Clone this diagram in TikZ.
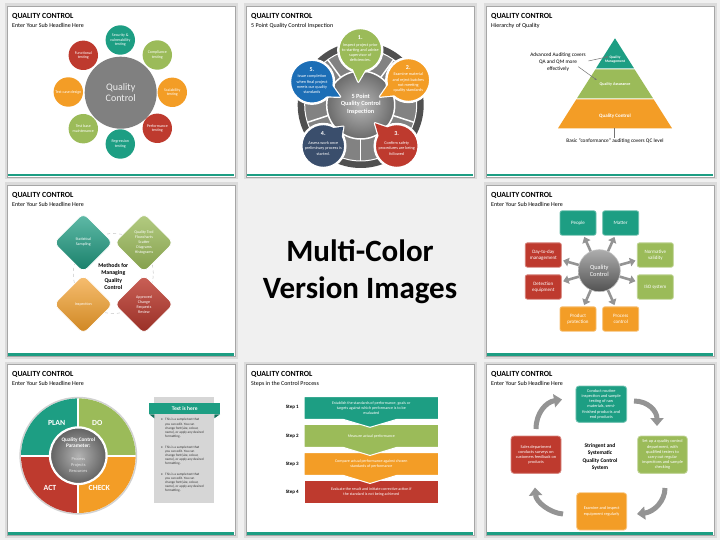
\documentclass[tikz,border=0pt]{standalone}
\usepackage{fontspec}
\setmainfont{Carlito}
\usetikzlibrary{calc,arrows.meta}
\definecolor{bgc}{RGB}{240,240,240}
\definecolor{tealc}{RGB}{29,158,131}
\definecolor{greenc}{RGB}{155,187,89}
\definecolor{orangec}{RGB}{243,157,38}
\definecolor{redc}{RGB}{190,58,46}
\definecolor{navyc}{RGB}{58,78,108}
\definecolor{bluec}{RGB}{28,110,182}
\definecolor{qgray}{RGB}{128,128,128}
\definecolor{ringdark}{RGB}{80,80,80}
\definecolor{ringmid}{RGB}{130,130,130}
\newcommand\myfs[2]{\fontsize{#1}{#2}\selectfont}
\tikzset{
  slidetitle/.style={anchor=base west,inner sep=0pt,font=\bfseries\myfs{7.8}{9}},
  slidesub/.style={anchor=base west,inner sep=0pt,font=\myfs{6}{7}},
  wtxt/.style={text=white,align=center,inner sep=0pt},
  smallc/.style={circle,minimum size=29.4pt,inner sep=0pt,text=white,align=center,font=\myfs{4}{4.6}},
  bnum/.style={wtxt,font=\bfseries\myfs{6}{7}},
  btext/.style={wtxt,font=\myfs{4.2}{5.2}},
  ptext/.style={wtxt,font=\bfseries\myfs{4}{4.8}},
  annot/.style={align=center,inner sep=0pt,font=\myfs{5.3}{7}},
  dtext/.style={wtxt,font=\myfs{4}{5}},
  qbox/.style={rectangle,rounded corners=2pt,minimum width=36pt,minimum height=24.3pt,inner sep=0pt,text=white,align=center,font=\myfs{5}{6.3},line width=0.8pt},
  garrow/.style={draw=black!42,line width=2.6pt,-{Triangle[length=5.5pt,width=8.5pt]},shorten >=1.5pt},
  pdca/.style={wtxt,font=\bfseries\myfs{7.8}{9}},
  bultxt/.style={anchor=north west,align=left,inner sep=0pt,font=\myfs{3.4}{4.2},text=black!80},
  bulmark/.style={inner sep=0pt,font=\myfs{3.4}{4.2},text=black!80},
  steplab/.style={inner sep=0pt,font=\bfseries\myfs{5}{6}},
  stext/.style={wtxt,font=\myfs{4}{5}},
  sbox/.style={rectangle,rounded corners=3pt,inner sep=1pt,text=white,align=center,font=\myfs{4.3}{5.2},line width=0.8pt},
  garc/.style={draw=black!42,line width=5pt,-{Triangle[length=8pt,width=13pt]}},
}
\newcommand\myslide[4]{%
 \begin{scope}[shift={(#1,#2)}]
  \fill[black!14] (-2.5,-2.5) rectangle (230.5,173.5);
  \filldraw[fill=white,draw=black!35,line width=0.9pt] (0,0) rectangle (228,171);
  \fill[tealc] (0.6,168.4) rectangle (227.4,170.5);
  \node[slidetitle] (#3t) at (5,12.3) {QUALITY CONTROL};
  \node[slidesub] (#3s) at (5,21.5) {#4};
 \end{scope}}
\newcommand\bubble[6]{%
 \coordinate (#1c) at #3;
 \coordinate (#1a) at #4;
 \filldraw[fill=#2,draw=white,line width=2.4pt,line join=round] ($(#1c)!20pt!19:(#1a)$) -- (#1a) -- ($(#1c)!20pt!-19:(#1a)$) -- cycle;
 \filldraw[fill=#2,draw=white,line width=2.4pt] (#1c) circle (22pt);
 \fill[#2] ($(#1c)!20pt!19:(#1a)$) -- (#1a) -- ($(#1c)!20pt!-19:(#1a)$) -- cycle;
 \node[bnum] (#1n) at ($(#1c)+(0,-12)$) {#5};
 \node[btext] (#1x) at ($(#1c)+(0,2.5)$) {#6};
}
\newcommand\chev[5]{%
 \filldraw[fill=#2,draw=white,line width=1pt] (304,#3) -- (438.7,#3) -- (438.7,#4) -- (397,#4) -- (370,#5) -- (343,#4) -- (304,#4) -- cycle;
 \coordinate (#1) at (371.3,#3);}
\newcommand\rdiam[4]{% center x, y, top color, bottom color
 \path[top color=#3,bottom color=#4,draw=white,line width=0.8pt,rounded corners=6pt]
   (#1,#2-29.5) -- (#1+29.5,#2) -- (#1,#2+29.5) -- (#1-29.5,#2) -- cycle;}
\begin{document}
\begin{tikzpicture}[x=1pt,y=-1pt]
\useasboundingbox (0,0) rectangle (720,540);
\fill[bgc] (0,0) rectangle (720,540);

% ---------- frames ----------
\myslide{7}{6}{sa}{Enter Your Sub Headline Here}
\myslide{246}{6}{sb}{5 Point Quality Control Inspection}
\myslide{486}{6}{sc}{Hierarchy of Quality}
\myslide{7}{185}{sd}{Enter Your Sub Headline Here}
\myslide{486}{185}{se}{Enter Your Sub Headline Here}
\myslide{7}{364}{sf}{Enter Your Sub Headline Here}
\myslide{246}{364}{sg}{Steps in the Control Process}
\myslide{486}{364}{sh}{Enter Your Sub Headline Here}

% ---------- slide 1 ----------
\node[circle,fill=qgray,minimum size=72pt,inner sep=0pt,text=black!7,align=center,font=\myfs{10}{11.5}] (a0) at (120.7,92.7) {Quality\\Control};
\node[smallc,fill=tealc] (a1) at (120.3,40) {Security \&\\vulnerability\\testing};
\node[smallc,fill=greenc] (a2) at (157.3,55) {Compliance\\testing};
\node[smallc,fill=orangec] (a3) at (172.3,92.3) {Scalability\\testing};
\node[smallc,fill=redc] (a4) at (157.3,128.3) {Performance\\testing};
\node[smallc,fill=tealc] (a5) at (120.3,144) {Regression\\testing};
\node[smallc,fill=greenc] (a6) at (83.3,128.7) {Test base\\maintenance};
\node[smallc,fill=orangec] (a7) at (68.3,92) {Test case design};
\node[smallc,fill=redc] (a8) at (83.3,55.3) {Functional\\testing};

% ---------- slide 2 ----------
\fill[ringdark] (360.7,105) circle (63pt);
\fill[ringmid] (360.7,105) circle (56pt);
\draw[white,line width=1pt] (360.7,105) circle (56pt);
\foreach \a in {54,126,198,270,342}
  \draw[white,line width=1.5pt] (360.7,105) ++(\a:34pt) -- ++(\a:22pt);
\shade[inner color=black!28,outer color=black!58] (360.7,105) circle (34pt);
\draw[white,line width=1.5pt] (360.7,105) circle (34pt);
\node[wtxt,font=\bfseries\myfs{6.3}{7.5}] (b0) at (360.7,104) {5 Point\\Quality Control\\Inspection};
\bubble{ba}{greenc}{(360.3,50)}{(358.3,81.7)}{1.}{Inspect project prior\\to starting and advise\\supervisor of\\deficiencies.}
\bubble{bb}{orangec}{(408.3,80)}{(380,96.7)}{2.}{Examine material\\and reject batches\\not meeting\\quality standards}
\bubble{bc}{redc}{(396.7,146)}{(375,123.3)}{3.}{Confirm safety\\procedures are being\\followed}
\bubble{bd}{navyc}{(323.3,146)}{(343.3,126.7)}{4.}{Assess work once\\preliminary process is\\started.}
\bubble{be}{bluec}{(312,81.7)}{(340,96.7)}{5.}{Issue completion\\when final project\\meets our quality\\standards}

% ---------- slide 3 ----------
\fill[tealc] (615,38.3) -- (634,68.3) -- (596,68.3) -- cycle;
\fill[greenc] (595.4,69.4) -- (634.6,69.4) -- (653,98.3) -- (577,98.3) -- cycle;
\fill[orangec] (576.3,99.4) -- (653.7,99.4) -- (672,128.3) -- (558,128.3) -- cycle;
\node[ptext,font=\bfseries\myfs{3.6}{4.4}] (c1) at (615,59.5) {Quality\\Management};
\node[ptext,font=\bfseries\myfs{4.1}{5}] (c2) at (615,84.7) {Quality Assurance};
\node[ptext,font=\bfseries\myfs{5}{6}] (c3) at (615,116) {Quality Control};
\node[annot] (c4) at (558,62) {Advanced Auditing covers\\QA and QM more\\effectively};
\coordinate (c4a) at (588.3,61);
\coordinate (c4b) at (578.3,66.7);
\coordinate (qm) at (608.3,56.7);
\coordinate (qa) at (596.7,80);
\draw[black!55,line width=0.5pt,-{Stealth[length=2.2pt,width=2pt]}] (c4a) -- (qm);
\draw[black!55,line width=0.5pt,-{Stealth[length=2.2pt,width=2pt]}] (c4b) -- (qa);
\coordinate (qcb) at (614,128.5);
\node[annot,anchor=north] (c5) at (615,138.2) {Basic “conformance” auditing covers QC level};
\draw[black!55,line width=0.5pt] (qcb) -- (c5.north -| qcb);

% ---------- slide 4 ----------
\draw[black!22,dashed,line width=0.5pt] (113.3,273.5) circle (40pt);
\rdiam{83.3}{242.7}{tealc!70!white}{tealc!80!black}
\rdiam{144}{242.7}{greenc!75!white}{greenc!85!black}
\rdiam{83.3}{304.3}{orangec!65!white}{orangec!85!black}
\rdiam{144}{304.3}{redc!80!white}{redc!80!black}
\node[dtext] (d1) at (83.3,241.5) {Statistical\\Sampling};
\node[dtext] (d2) at (144,242.8) {Quality Tool\\Flowcharts\\Scatter\\Diagrams\\Histograms};
\node[dtext] (d3) at (83.3,304) {Inspection};
\node[dtext] (d4) at (144,304.3) {Approved\\Change\\Requests\\Review};
\node[align=center,inner sep=0pt,font=\bfseries\myfs{5.8}{7.6}] (d0) at (113.3,276.5) {Methods for\\Managing\\Quality\\Control};

% ---------- slide 5 ----------
\node[circle,minimum size=42pt,inner sep=0pt,top color=black!32,bottom color=black!68,draw=black!25,line width=0.6pt,text=white,align=center,font=\myfs{6.3}{7.3}] (e0) at (599.3,270.7) {Quality\\Control};
\node[qbox,fill=tealc,draw=tealc!65!white] (e1) at (578,223) {People};
\node[qbox,fill=tealc,draw=tealc!65!white] (e2) at (620.7,223) {Matter};
\node[qbox,fill=greenc,draw=greenc!65!white] (e3) at (655.3,255) {Normative\\validity};
\node[qbox,fill=greenc,draw=greenc!65!white] (e4) at (655.3,287) {ISO system};
\node[qbox,fill=orangec,draw=orangec!65!white] (e5) at (620.7,319) {Process\\control};
\node[qbox,fill=orangec,draw=orangec!65!white] (e6) at (578,319) {Product\\protection};
\node[qbox,fill=redc,draw=redc!65!white] (e7) at (543.3,287) {Detection\\equipment};
\node[qbox,fill=redc,draw=redc!65!white] (e8) at (543.3,255) {Day-to-day\\management};
\foreach \b in {e1,e2,e3,e4,e5,e6,e7,e8}
  \draw[garrow] (e0) -- (\b);

% ---------- slide 6 ----------
\draw[black!18,line width=1.4pt] (78.3,455.7) circle (58.2pt);
\begin{scope}
  \clip (78.3,455.7) circle (57.3pt);
  \fill[tealc] (20,397) rectangle (78.3,455.7);
  \fill[greenc] (78.3,397) rectangle (137,455.7);
  \fill[redc] (20,455.7) rectangle (78.3,514);
  \fill[orangec] (78.3,455.7) rectangle (137,514);
  \draw[white,line width=2pt] (78.3,397) -- (78.3,514);
  \draw[white,line width=2pt] (20,455.7) -- (137,455.7);
\end{scope}
\shade[inner color=black!30,outer color=black!62] (78.3,455.7) circle (28.3pt);
\draw[white,line width=2.2pt] (78.3,455.7) circle (28.3pt);
\node[pdca] (f1) at (56.7,422.7) {PLAN};
\node[pdca] (f2) at (97.3,422.7) {DO};
\node[pdca] (f3) at (50,487.7) {ACT};
\node[pdca] (f4) at (99.3,487.7) {CHECK};
\node[wtxt,font=\bfseries\myfs{5.3}{6}] (f5) at (78.3,443) {Quality Control\\Parameter:};
\node[wtxt,text=black!10,font=\myfs{4.4}{5.8}] (f6) at (78.3,465) {Process\\Projects\\Resources};
\fill[black!16] (154.3,396.7) rectangle (214.3,502.7);
\fill[tealc!70!black] (149.3,414.3) -- (154.3,414.3) -- (154.3,418.3) -- cycle;
\fill[tealc!70!black] (220,414.3) -- (214.3,414.3) -- (214.3,418.3) -- cycle;
\node[rectangle,fill=tealc,minimum width=70.7pt,minimum height=11.6pt,inner sep=0pt,text=white,font=\bfseries\myfs{5.5}{6}] (f7) at (184.65,408.5) {Text is here};
\node[bulmark] (f8) at (162,420) {\textbullet};
\node[bultxt] (f9) at (165,418.3) {This is a sample text that\\you can edit. You can\\change font(size, colour,\\name), or apply any desired\\formatting.};
\node[bulmark] (f10) at (162,447.3) {\textbullet};
\node[bultxt] (f11) at (165,445.6) {This is a sample text that\\you can edit. You can\\change font(size, colour,\\name), or apply any desired\\formatting.};
\node[bulmark] (f12) at (162,474.3) {\textbullet};
\node[bultxt] (f13) at (165,472.6) {This is a sample text that\\you can edit. You can\\change font(size, colour,\\name), or apply any desired\\formatting.};

% ---------- slide 7 ----------
\chev{g4}{redc}{480.7}{503.3}{503.3}
\chev{g3}{orangec}{452.7}{475.3}{483.5}
\chev{g2}{greenc}{424.3}{447.3}{455.5}
\chev{g1}{tealc}{396.7}{419.3}{427.3}
\node[steplab] (gl1) at (292.3,407.3) {Step 1};
\node[steplab] (gl2) at (292.3,436.3) {Step 2};
\node[steplab] (gl3) at (292.3,464.3) {Step 3};
\node[steplab] (gl4) at (292.3,492.7) {Step 4};
\node[stext] (gt1) at (371.3,408) {Establish the standards of performance, goals or\\targets against which performance is to be\\evaluated};
\node[stext] (gt2) at (371.3,436) {Measure actual performance};
\node[stext] (gt3) at (371.3,464.3) {Compare actual performance against chosen\\standards of performance};
\node[stext] (gt4) at (371.3,492) {Evaluate the result and initiate corrective action if\\the standard is not being achieved};

% ---------- slide 8 ----------
\node[sbox,fill=tealc,draw=tealc!60!white,minimum width=50.7pt,minimum height=36.3pt] (h1) at (601.3,404.2) {Conduct routine\\inspection and sample\\testing of raw\\materials, semi-\\finished products and\\end products};
\node[sbox,fill=greenc,draw=greenc!60!white,minimum width=49.6pt,minimum height=37.3pt] (h2) at (662.5,454.7) {Set up a quality control\\department, with\\qualified testers to\\carry out regular\\inspections and sample\\checking};
\node[sbox,fill=orangec,draw=orangec!60!white,minimum width=50pt,minimum height=37.3pt] (h3) at (601.7,511.4) {Examine and inspect\\equipment regularly};
\node[sbox,fill=redc,draw=redc!60!white,minimum width=50pt,minimum height=37.3pt] (h4) at (536,454.7) {Sales department\\conducts surveys on\\customers feedback on\\products};
\node[align=center,inner sep=0pt,font=\bfseries\myfs{5.5}{7.3}] (h0) at (600,457) {Stringent and\\Systematic\\Quality Control\\System};
\coordinate (ha1) at (536,429);   \coordinate (ha2) at (562,399.5);
\coordinate (hb1) at (634,401);   \coordinate (hb2) at (657,426);
\coordinate (hc1) at (665,488);   \coordinate (hc2) at (637,514);
\coordinate (hd1) at (563,514);   \coordinate (hd2) at (535,487.5);
\draw[garc] (ha1) .. controls (536,413) and (546,402) .. (ha2);
\draw[garc] (hb1) .. controls (648,401) and (657,411) .. (hb2);
\draw[garc] (hc1) .. controls (665,501) and (654,512) .. (hc2);
\draw[garc] (hd1) .. controls (550,513) and (536,502) .. (hd2);

% ---------- centre ----------
\node[align=center,inner sep=0pt,font=\bfseries\myfs{31}{36.7}] (mc) at (360,271.5) {Multi-Color\\Version Images};
\end{tikzpicture}
\end{document}
